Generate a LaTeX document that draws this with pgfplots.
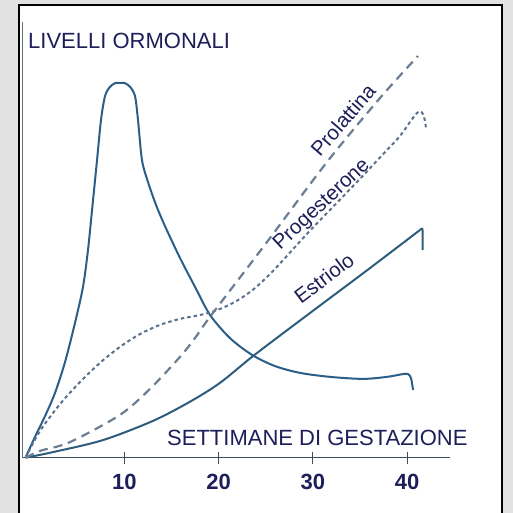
\documentclass[border=0pt]{standalone}
\usepackage{fontspec}
\setmainfont{Liberation Sans}
\usepackage{pgfplots}
\pgfplotsset{compat=1.18}
\definecolor{bgg}{RGB}{226,226,226}
\definecolor{navy}{RGB}{30,30,90}
\definecolor{hcg}{RGB}{44,95,135}
\definecolor{est}{RGB}{46,92,125}
\definecolor{prl}{RGB}{108,126,146}
\definecolor{prg}{RGB}{92,114,140}
\definecolor{axc}{RGB}{60,78,92}
\begin{document}
\begin{tikzpicture}
\useasboundingbox (0,0) rectangle (513bp,513bp);
\fill[bgg] (0,0) rectangle (513bp,513bp);
\fill[white] (19bp,0) rectangle (502bp,508bp);
\draw[black, line width=1.8bp] (19bp,0) -- (19bp,508bp) -- (502bp,508bp) -- (502bp,0);
\begin{axis}[
  scale only axis, width=428bp, height=435.7bp,
  at={(22bp,55.3bp)}, anchor=south west,
  xmin=-0.876, xmax=44.56, ymin=0, ymax=108.9,
  axis x line*=bottom, axis y line*=left,
  x axis line style={axc, line width=1.6bp},
  y axis line style={axc!80, line width=0.8bp},
  ytick=\empty,
  xtick={10,20,30,40},
  tick align=center, major tick length=12bp,
  xtick style={axc, line width=1bp},
  /pgf/number format/assume math mode=true,
  xticklabel style={font=\fontsize{22bp}{26bp}\selectfont\bfseries, text=navy, anchor=base, yshift=-26bp},
  xlabel={SETTIMANE DI GESTAZIONE},
  xlabel style={font=\fontsize{22bp}{26bp}\selectfont, text=navy, at={(axis description cs:0.3388,0.0291)}, anchor=base west, inner sep=0pt},
  ylabel={LIVELLI ORMONALI},
  ylabel style={rotate=-90, font=\fontsize{22bp}{26bp}\selectfont, text=navy, at={(axis description cs:0.014,0.9396)}, anchor=base west, inner sep=0pt},
  clip=false,
]
% hCG
\addplot[hcg, line width=2bp, smooth] coordinates {
(-0.5,0) (0.50,5.2) (1.57,10.4) (2.63,16.2) (3.69,23.9) (4.75,33.7) (5.60,42.7) (6.13,51.9) (6.56,61.9) (7.09,74.4) (7.51,84.4) (7.94,90.4) (8.47,92.7) (9.00,93.6) (9.53,93.7) (10.06,93.6) (10.59,92.7) (11.12,90.4) (11.44,84.4) (11.86,74.4) (12.50,68.9) (13.35,63.2) (14.30,57.9) (15.90,49.9) (17.49,42.7) (19.08,35.7) (21.20,29.9) (23.54,25.7) (25.98,22.9) (28.64,21.2) (31.82,20.2) (35.32,19.7) (37.87,20.2) (39.57,20.9) (40.10,20.9) (40.42,19.9) (40.64,16.9)};
% Estriolo
\addplot[est, line width=2bp, smooth] coordinates {
(-0.5,0) (2.42,1.4) (7.72,4.4) (13.03,9.2) (16.96,14.0) (20.14,18.7) (23.54,25.2) (27.57,32.4) (31.82,39.9) (36.07,47.4) (41.37,56.9)};
\addplot[est, line width=2bp, smooth] coordinates {
(41.37,56.9) (41.62,57.2) (41.66,55.0) (41.66,51.9)};
% Progesterone
\addplot[prg, line width=2bp, smooth, dash pattern=on 3.5bp off 3bp] coordinates {
(-0.5,0) (1.04,6.7) (3.16,13.4) (5.28,18.9) (7.40,23.7) (9.53,27.7) (11.65,30.9) (13.78,33.2) (15.90,34.7) (17.49,35.4) (19.08,36.3) (20.67,37.7) (22.27,39.7) (23.86,42.4) (25.45,45.9) (27.04,49.9) (29.48,56.2) (32.14,62.7) (35.00,69.7) (37.87,76.9) (39.25,80.4) (40.31,83.9) (40.95,85.9) (41.37,86.6) (41.69,85.9) (41.90,84.2) (42.01,82.4)};
% Prolattina
\addplot[prl, line width=2.2bp, smooth, dash pattern=on 9bp off 6bp] coordinates {
(-0.5,0) (1.04,1.7) (4.22,3.9) (9.53,10.7) (12.71,17.2) (15.90,25.2) (17.49,29.9) (19.08,35.2) (25.13,53.9) (31.50,73.9) (37.13,89.9) (41.16,100.4)};
\node[rotate=49, text=navy, font=\fontsize{20.5bp}{24bp}\selectfont] at (axis cs:33.2,84.4) {Prolattina};
\node[rotate=43, text=navy, font=\fontsize{20.5bp}{24bp}\selectfont] at (axis cs:30.97,63.2) {Progesterone};
\node[rotate=37, text=navy, font=\fontsize{20.5bp}{24bp}\selectfont] at (axis cs:31.18,44.9) {Estriolo};
\end{axis}
\end{tikzpicture}
\end{document}
